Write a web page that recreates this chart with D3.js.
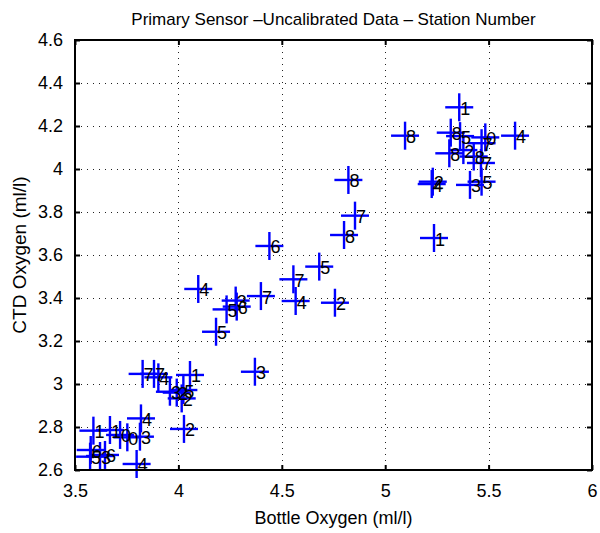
<!DOCTYPE html>
<html><head><meta charset="utf-8">
<script src="https://cdn.jsdelivr.net/npm/d3@7"></script>
<style>body{margin:0;background:#fff}svg{display:block}text{font-family:"Liberation Sans",Arial,Helvetica,sans-serif}</style>
</head><body>
<script>
// Data: bottle oxygen (x), CTD oxygen (y), station number label
const bottleOxygen = [5.358,5.096,5.317,5.362,5.484,5.628,5.466,5.378,5.31,5.428,5.463,5.23,5.225,5.41,5.466,5.236,
  4.822,4.854,4.801,4.44,4.681,4.556,4.096,4.399,4.567,4.757,4.277,4.233,4.282,4.182,4.37,
  3.827,3.882,3.903,4.056,3.959,3.992,4.024,4.016,3.819,4.027,3.589,3.669,3.718,3.753,3.814,3.576,3.573,3.621,3.645,3.798];
const ctdOxygen = [4.287,4.155,4.169,4.153,4.147,4.155,4.12,4.088,4.073,4.058,4.028,3.941,3.93,3.926,3.941,3.679,
  3.949,3.783,3.693,3.642,3.546,3.487,3.442,3.409,3.386,3.378,3.388,3.347,3.36,3.243,3.057,
  3.047,3.047,3.031,3.042,2.964,2.96,2.972,2.933,2.84,2.791,2.783,2.786,2.763,2.752,2.755,2.693,2.662,2.665,2.67,2.628];
const stationNumber = ["1","8","8","5","0","4","7","2","8","8","7","2","4","3","5","1",
  "8","7","8","6","5","7","4","7","4","2","3","5","6","5","3",
  "7","7","4","1","3","2","5","2","4","2","1","1","0","0","3","6","5","3","6","4"];
const xTicks = [3.5,4,4.5,5,5.5,6];
const yTicks = [2.6,2.8,3,3.2,3.4,3.6,3.8,4,4.2,4.4,4.6];
const titleText = "Primary Sensor \u2013Uncalibrated Data \u2013 Station Number";
const xLabel = "Bottle Oxygen (ml/l)";
const yLabel = "CTD Oxygen (ml/l)";

const W = 600, H = 533;
const L = 75, R = 592, T = 40, B = 470;
const x = d3.scaleLinear().domain([3.5, 6]).range([L, R]);
const y = d3.scaleLinear().domain([2.6, 4.6]).range([B, T]);

const svg = d3.select("body").append("svg").attr("width", W).attr("height", H);

// grid
const grid = svg.append("g").attr("stroke", "#222").attr("stroke-width", 1).attr("stroke-dasharray", "1,5");
grid.selectAll("line.gx").data(xTicks.slice(1, -1)).join("line")
  .attr("x1", d => Math.round(x(d)) + 0.5).attr("x2", d => Math.round(x(d)) + 0.5).attr("y1", T).attr("y2", B);
grid.selectAll("line.gy").data(yTicks.slice(1, -1)).join("line")
  .attr("y1", d => Math.round(y(d)) + 0.5).attr("y2", d => Math.round(y(d)) + 0.5).attr("x1", L).attr("x2", R);

// axes with inward ticks
const fmt = d => String(d);
const axB = svg.append("g").attr("transform", `translate(0,${B})`)
  .call(d3.axisBottom(x).tickValues(xTicks).tickFormat(fmt).tickSizeInner(-5).tickSizeOuter(0).tickPadding(14));
const axT = svg.append("g").attr("transform", `translate(0,${T})`)
  .call(d3.axisTop(x).tickValues(xTicks).tickFormat("").tickSizeInner(-5).tickSizeOuter(0));
const axL = svg.append("g").attr("transform", `translate(${L},0)`)
  .call(d3.axisLeft(y).tickValues(yTicks).tickFormat(fmt).tickSizeInner(-5).tickSizeOuter(0).tickPadding(12));
const axR = svg.append("g").attr("transform", `translate(${R},0)`)
  .call(d3.axisRight(y).tickValues(yTicks).tickFormat("").tickSizeInner(-5).tickSizeOuter(0));
[axB, axT, axL, axR].forEach(a => {
  a.select(".domain").remove();
  a.selectAll(".tick line").attr("stroke", "#000").attr("stroke-width", 2);
  a.selectAll("text").attr("font-size", 18).attr("fill", "#000")
    .attr("font-family", '"Liberation Sans",Arial,Helvetica,sans-serif');
});

// markers
const mk = svg.append("g").attr("stroke", "#0000ff").attr("stroke-width", 2.4);
const idx = d3.range(bottleOxygen.length);
mk.selectAll("line.h").data(idx).join("line")
  .attr("x1", i => x(bottleOxygen[i]) - 14).attr("x2", i => x(bottleOxygen[i]) + 14)
  .attr("y1", i => y(ctdOxygen[i])).attr("y2", i => y(ctdOxygen[i]));
mk.selectAll("line.v").data(idx).join("line")
  .attr("y1", i => y(ctdOxygen[i]) - 14).attr("y2", i => y(ctdOxygen[i]) + 14)
  .attr("x1", i => x(bottleOxygen[i])).attr("x2", i => x(bottleOxygen[i]));

// station labels
svg.append("g").selectAll("text").data(idx).join("text")
  .attr("x", i => x(bottleOxygen[i]) + 1).attr("y", i => y(ctdOxygen[i]) + 7.5)
  .attr("font-size", 18).attr("fill", "#000").text(i => stationNumber[i]);

// box
svg.append("rect").attr("x", L).attr("y", T).attr("width", R - L).attr("height", B - T)
  .attr("fill", "none").attr("stroke", "#000").attr("stroke-width", 2);

// titles
svg.append("text").attr("x", (L + R) / 2).attr("y", 25).attr("text-anchor", "middle")
  .attr("font-size", 17).text(titleText);
svg.append("text").attr("x", (L + R) / 2).attr("y", 524).attr("text-anchor", "middle")
  .attr("font-size", 18).text(xLabel);
svg.append("text").attr("transform", `translate(26,${(T + B) / 2}) rotate(-90)`).attr("text-anchor", "middle")
  .attr("font-size", 19).text(yLabel);
</script>
</body></html>
